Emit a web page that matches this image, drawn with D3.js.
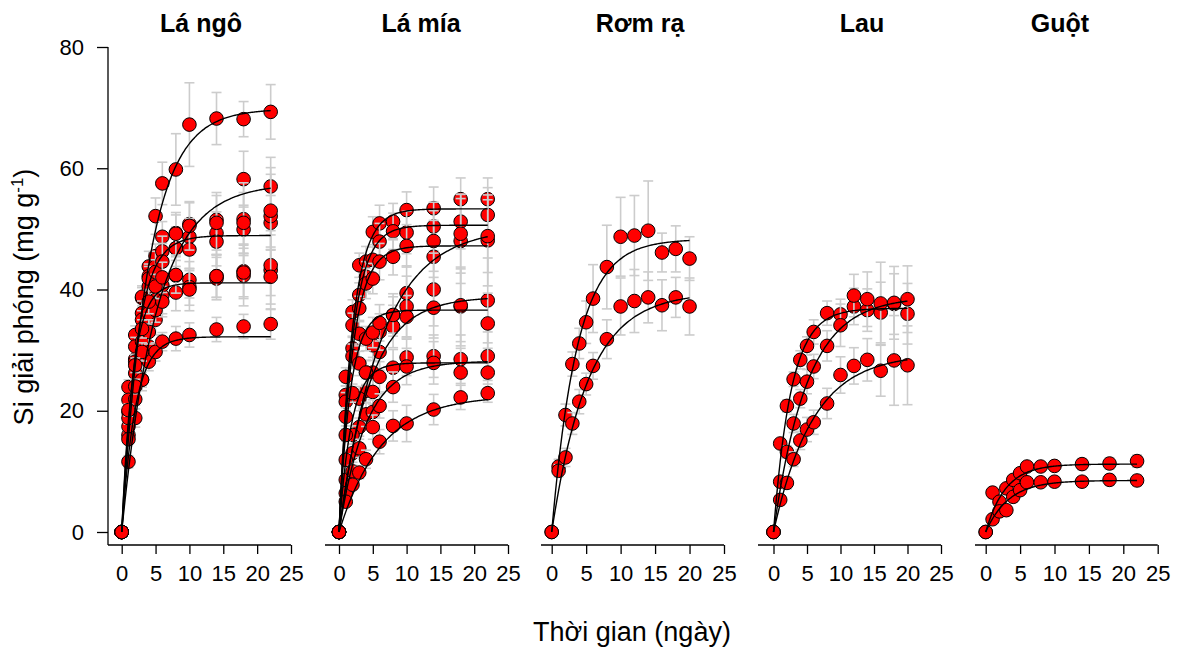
<!DOCTYPE html>
<html>
<head>
<meta charset="utf-8">
<script src="https://cdn.jsdelivr.net/npm/d3@7"></script>
<style>
  body { margin: 0; background: #fff; }
  text { font-family: Arial, "Liberation Sans", sans-serif; fill: #000; }
</style>
</head>
<body>
<svg id="chart" width="1179" height="648"></svg>
<script>
// Data
const panelNames = ["Lá ngô", "Lá mía", "Rơm rạ", "Lau", "Guột"];
const daysLong = [0, 1, 2, 3, 4, 5, 6, 8, 10, 14, 18, 22];
const daysShort = [0, 1, 2, 3, 4, 5, 6, 8, 10, 12, 14, 16, 18, 20];
const xTicks = [0, 5, 10, 15, 20, 25];
const yTicks = [0, 20, 40, 60, 80];

// Lá ngô
const laNgoValues = [
    [0, 16.0, 28.5, 38.6, 43.8, 52.1, 57.5, 59.8, 67.2, 68.2, 68.1, 69.3],
    [0, 11.6, 18.8, 25.1, 30.6, 35.0, 39.0, 46.8, 50.8, 51.5, 58.2, 57.0],
    [0, 23.9, 32.5, 38.8, 42.2, 45.5, 48.7, 49.3, 48.7, 49.3, 49.9, 51.0],
    [0, 21.8, 30.6, 36.1, 40.5, 43.8, 46.3, 46.8, 46.6, 47.9, 51.6, 52.1],
    [0, 19.8, 28.1, 35.0, 41.8, 42.9, 44.6, 49.2, 50.5, 51.0, 51.0, 53.0],
    [0, 17.4, 26.2, 31.4, 36.1, 38.3, 40.7, 42.3, 41.6, 42.2, 42.3, 43.2],
    [0, 15.3, 21.9, 25.1, 28.1, 29.7, 31.4, 31.9, 32.5, 33.4, 33.9, 34.3],
    [0, 18.8, 24.0, 29.7, 33.0, 36.6, 38.0, 39.5, 40.4, 41.8, 43.0, 44.0],
    [0, 20.1, 27.5, 33.5, 38.0, 40.5, 42.0, 42.4, 40.0, 42.2, 42.8, 42.1]
];
const laNgoErrors = [
    [0, 1.0, 1.5, 2.0, 2.5, 3.0, 3.5, 5.9, 6.9, 4.3, 2.9, 4.5],
    [0, 1.0, 1.5, 1.8, 2.0, 2.5, 3.0, 3.5, 3.5, 4.5, 4.6, 4.8],
    [0, 1.2, 1.5, 1.5, 2.0, 2.0, 2.5, 3.0, 3.0, 3.5, 4.0, 4.5],
    [0, 1.0, 1.5, 2.0, 2.0, 2.5, 2.5, 3.0, 3.5, 4.0, 6.0, 8.0],
    [0, 1.0, 1.2, 1.5, 2.0, 2.0, 3.0, 3.5, 4.0, 4.5, 5.0, 6.0],
    [0, 0.8, 1.2, 1.5, 1.8, 2.0, 2.0, 2.5, 3.0, 3.5, 5.0, 6.5],
    [0, 0.8, 1.0, 1.2, 1.5, 1.5, 1.5, 2.0, 2.0, 2.0, 2.0, 2.5],
    [0, 1.0, 1.2, 1.5, 2.0, 2.0, 2.5, 3.0, 3.0, 3.5, 4.5, 5.0],
    [0, 1.0, 1.2, 1.5, 2.0, 2.0, 2.5, 3.0, 3.5, 3.5, 4.0, 4.5]
];
// fitted first-order release: Si = A (1 - exp(-k t)); null = no fitted line drawn
const laNgoFitA = [69.8, 57.5, 48.9, null, null, 41.1, 32.2, null, null];
const laNgoFitK = [0.25, 0.195, 0.45, null, null, 0.6, 0.5, null, null];

// Lá mía
const laMiaValues = [
    [0, 25.6, 36.3, 44.0, 44.6, 49.5, 50.9, 51.2, 53.1, 53.4, 54.9, 54.9],
    [0, 22.6, 34.1, 39.1, 42.1, 44.9, 47.9, 49.6, 49.4, 50.4, 51.2, 52.3],
    [0, 8.6, 13.0, 17.3, 23.3, 26.3, 29.7, 35.8, 39.4, 45.4, 48.0, 48.1],
    [0, 21.5, 30.3, 36.9, 41.0, 41.8, 44.6, 45.4, 47.2, 48.0, 49.2, 48.8],
    [0, 11.9, 16.0, 22.0, 26.3, 30.8, 33.0, 33.9, 37.2, 40.0, 37.2, 38.2],
    [0, 19.0, 29.0, 32.7, 31.9, 32.9, 34.5, 35.8, 35.5, 37.0, 37.4, 34.4],
    [0, 16.0, 22.9, 27.8, 26.3, 23.1, 25.6, 27.1, 28.8, 29.0, 28.5, 29.0],
    [0, 6.4, 10.0, 13.8, 19.4, 19.8, 20.8, 23.9, 27.3, 27.9, 26.3, 26.3],
    [0, 5.0, 7.8, 9.8, 12.0, 17.3, 14.9, 17.5, 17.9, 20.2, 22.2, 22.9]
];
const laMiaErrors = [
    [0, 1.5, 2.0, 2.0, 2.5, 2.5, 3.0, 3.0, 3.0, 3.5, 3.5, 3.5],
    [0, 1.5, 2.0, 2.0, 2.5, 2.5, 3.0, 3.0, 3.5, 4.0, 4.5, 4.5],
    [0, 1.0, 1.5, 1.5, 2.0, 2.5, 3.0, 3.5, 4.5, 6.0, 7.0, 7.5],
    [0, 1.5, 2.0, 2.0, 2.5, 2.5, 3.0, 3.0, 3.5, 5.0, 6.5, 6.0],
    [0, 1.0, 1.5, 2.0, 2.0, 2.5, 3.0, 3.5, 5.0, 6.0, 6.5, 7.0],
    [0, 1.5, 2.0, 2.0, 2.0, 2.5, 3.0, 3.0, 3.5, 5.0, 6.0, 5.0],
    [0, 1.0, 1.5, 2.0, 2.0, 2.0, 2.5, 3.0, 3.0, 3.5, 4.0, 4.0],
    [0, 0.8, 1.0, 1.5, 2.0, 2.0, 2.0, 2.5, 3.0, 3.5, 4.0, 4.0],
    [0, 0.5, 0.8, 1.0, 1.5, 2.0, 2.0, 2.5, 3.0, 2.5, 2.0, 1.5]
];
const laMiaFitA = [53.3, 50.6, 50.2, 47.2, 38.8, 36.6, 27.9, 28.2, 22.5];
const laMiaFitK = [0.5, 0.5, 0.16, 0.5, 0.22, 0.6, 0.55, 0.25, 0.16];

// Rơm rạ
const romRaValues = [
    [0, 10.8, 19.3, 27.7, 31.1, 34.6, 38.5, 43.7, 48.7, 48.9, 49.7, 46.1, 46.7, 45.1],
    [0, 10.1, 12.3, 17.9, 21.5, 24.4, 27.4, 31.8, 37.2, 38.1, 38.7, 37.4, 38.7, 37.2]
];
const romRaErrors = [
    [0, 1.2, 1.8, 2.0, 2.5, 3.5, 5.6, 6.9, 6.5, 6.6, 8.2, 3.2, 3.8, 3.6],
    [0, 1.0, 1.5, 1.8, 2.0, 1.8, 2.2, 3.2, 4.7, 5.2, 4.2, 4.2, 3.3, 4.7]
];
const romRaFitA = [48.3, 39.5];
const romRaFitK = [0.27, 0.19];

// Lau
const lauValues = [
    [0, 14.6, 20.8, 25.2, 28.4, 30.7, 33.0, 36.1, 35.9, 37.2, 36.6, 36.2, 37.6, 36.0],
    [0, 8.3, 13.2, 17.9, 22.0, 24.8, 27.3, 30.7, 34.1, 39.0, 38.4, 37.7, 37.8, 38.4],
    [0, 5.3, 8.1, 12.0, 15.1, 16.9, 18.1, 21.2, 25.9, 27.4, 28.4, 26.6, 28.3, 27.5]
];
const lauErrors = [
    [0, 0.8, 1.0, 1.2, 1.5, 1.5, 2.0, 2.0, 2.5, 3.0, 3.5, 5.0, 5.0, 5.0],
    [0, 0.8, 1.0, 1.5, 1.5, 2.0, 2.0, 2.5, 3.5, 3.5, 4.5, 6.8, 6.0, 5.5],
    [0, 0.5, 1.0, 1.2, 1.5, 2.0, 2.0, 2.5, 3.0, 3.0, 3.5, 4.2, 7.4, 6.5]
];
const lauFitA = [36.9, 38.8, 29.4];
const lauFitK = [0.38, 0.2, 0.17];

// Guột
const guotValues = [
    [0, 6.5, 5.0, 7.2, 8.6, 9.7, 10.8, 10.8, 10.9, 11.2, 11.3, 11.7],
    [0, 2.1, 3.4, 3.6, 5.8, 6.9, 8.2, 8.2, 8.3, 8.3, 8.6, 8.5]
];
const guotErrors = [
    [0, 0.5, 0.5, 0.6, 0.6, 0.7, 0.7, 0.8, 0.8, 0.9, 0.9, 1.0],
    [0, 0.4, 0.5, 0.5, 0.6, 0.6, 0.7, 0.7, 0.8, 0.8, 0.9, 0.9]
];
const guotFitA = [11.2, 8.5];
const guotFitK = [0.35, 0.3];

const panels = [
    { days: daysLong, values: laNgoValues, errors: laNgoErrors, fitA: laNgoFitA, fitK: laNgoFitK },
    { days: daysLong, values: laMiaValues, errors: laMiaErrors, fitA: laMiaFitA, fitK: laMiaFitK },
    { days: daysShort, values: romRaValues, errors: romRaErrors, fitA: romRaFitA, fitK: romRaFitK },
    { days: daysShort, values: lauValues, errors: lauErrors, fitA: lauFitA, fitK: lauFitK },
    { days: daysLong, values: guotValues, errors: guotErrors, fitA: guotFitA, fitK: guotFitK }
];

// Layout
const axisStart = [108, 325, 541, 758, 975];
const xZero = [121.7, 339, 551.7, 773.5, 985.7];
const xEnd = [291, 508, 724, 941, 1157.7];
const titleX = [201, 421, 640, 862, 1060];
const xAxisY = 545;

const svg = d3.select("#chart");

const y = d3.scaleLinear().domain([0, 80]).range([532, 47]);

// Y axis (first panel only)
const yAxis = svg.append("g")
    .attr("transform", `translate(${axisStart[0]},0)`)
    .call(d3.axisLeft(y).tickValues(yTicks).tickSize(11).tickPadding(13));
yAxis.select(".domain").remove();
yAxis.selectAll("text").style("font-size", "22px");
yAxis.selectAll("line").attr("stroke-width", 1.3);
svg.append("line")
    .attr("x1", axisStart[0]).attr("x2", axisStart[0])
    .attr("y1", y(80)).attr("y2", xAxisY)
    .attr("stroke", "#000").attr("stroke-width", 1.3);

const line = d3.line().curve(d3.curveBasis);

panels.forEach((p, i) => {
    const x = d3.scaleLinear().domain([0, 25]).range([xZero[i], xEnd[i]]);
    const g = svg.append("g");

    // X axis
    const ax = g.append("g")
        .attr("transform", `translate(0,${xAxisY})`)
        .call(d3.axisBottom(x).tickValues(xTicks).tickSize(9).tickPadding(11));
    ax.select(".domain").remove();
    ax.selectAll("text").style("font-size", "22px");
    ax.selectAll("line").attr("stroke-width", 1.3);
    g.append("line")
        .attr("x1", axisStart[i]).attr("x2", xEnd[i])
        .attr("y1", xAxisY).attr("y2", xAxisY)
        .attr("stroke", "#000").attr("stroke-width", 1.3);

    // Title
    g.append("text")
        .attr("x", titleX[i]).attr("y", 32)
        .attr("text-anchor", "middle")
        .style("font-size", "25px").style("font-weight", "bold")
        .text(panelNames[i]);

    // Series: error bars then symbols
    p.values.forEach((vals, s) => {
        const pts = vals.map((v, j) => ({ t: p.days[j], v: v, e: p.errors[s][j] }));
        const bars = g.append("g").attr("stroke", "#cccccc").attr("stroke-width", 1.6);
        pts.filter(d => d.e > 0).forEach(d => {
            const cx = x(d.t);
            bars.append("line").attr("x1", cx).attr("x2", cx)
                .attr("y1", y(d.v + d.e)).attr("y2", y(d.v - d.e));
            bars.append("line").attr("x1", cx - 5).attr("x2", cx + 5)
                .attr("y1", y(d.v + d.e)).attr("y2", y(d.v + d.e));
            bars.append("line").attr("x1", cx - 5).attr("x2", cx + 5)
                .attr("y1", y(d.v - d.e)).attr("y2", y(d.v - d.e));
        });
        g.append("g").selectAll("circle")
            .data(pts)
            .enter()
            .append("circle")
            .attr("cx", d => x(d.t))
            .attr("cy", d => y(d.v))
            .attr("r", 6.8)
            .attr("fill", "#ff0000")
            .attr("stroke", "#000")
            .attr("stroke-width", 1);
    });

    // Fitted curves on top
    const tMax = p.days[p.days.length - 1];
    p.fitA.forEach((A, s) => {
        if (A === null) return;
        const k = p.fitK[s];
        const ts = d3.range(0, tMax + 0.001, 0.25);
        g.append("path")
            .attr("d", line(ts.map(t => [x(t), y(A * (1 - Math.exp(-k * t)))])))
            .attr("fill", "none")
            .attr("stroke", "#000")
            .attr("stroke-width", 1.4);
    });
});

// Axis titles
svg.append("text")
    .attr("x", 632).attr("y", 641)
    .attr("text-anchor", "middle")
    .style("font-size", "27px")
    .text("Thời gian (ngày)");

const yLab = svg.append("text")
    .attr("transform", "translate(33,297) rotate(-90)")
    .attr("text-anchor", "middle")
    .style("font-size", "27px");
yLab.append("tspan").text("Si giải phóng (mg g");
yLab.append("tspan").attr("dy", -10).style("font-size", "17px").text("-1");
yLab.append("tspan").attr("dy", 10).text(")");
</script>
</body>
</html>
